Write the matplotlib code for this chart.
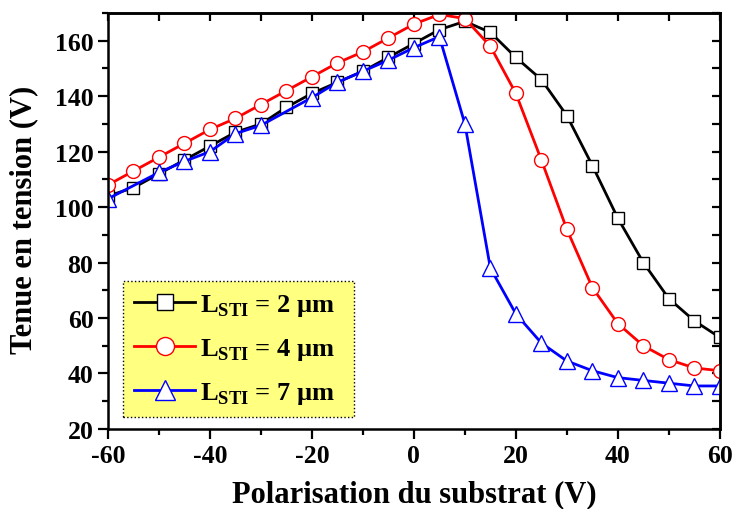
import numpy as np
import matplotlib
matplotlib.use("Agg")
import matplotlib.pyplot as plt
from matplotlib.ticker import MultipleLocator

plt.rcParams["font.family"] = ["Liberation Serif", "DejaVu Serif"]
plt.rcParams["font.weight"] = "bold"
plt.rcParams["axes.unicode_minus"] = False
plt.rcParams["mathtext.fontset"] = "custom"
plt.rcParams["mathtext.rm"] = "Liberation Serif:bold"
plt.rcParams["mathtext.bf"] = "Liberation Serif:bold"

# data
x_2um = [-60, -55, -50, -45, -40, -35, -30, -25, -20, -15, -10, -5, 0,
         5, 10, 15, 20, 25, 30, 35, 40, 45, 50, 55, 60]
y_2um = [104, 107, 112, 117, 122, 127, 130, 136, 141, 145, 149, 154, 159,
         164, 167, 163, 154, 146, 133, 115, 96, 80, 67, 59, 53]

x_4um = [-60, -55, -50, -45, -40, -35, -30, -25, -20, -15, -10, -5, 0,
         5, 10, 15, 20, 25, 30, 35, 40, 45, 50, 55, 60]
y_4um = [108, 113, 118, 123, 128, 132, 137, 142, 147, 152, 156, 161, 166,
         169.5, 168, 158, 141, 117, 92, 71, 58, 50, 45, 42, 41]

x_7um = [-60, -50, -45, -40, -35, -30, -20, -15, -10, -5, 0,
         5, 10, 15, 20, 25, 30, 35, 40, 45, 50, 55, 60]
y_7um = [103, 112.5, 116.5, 120, 126.5, 129.5, 139.5, 145, 149, 153, 157.5,
         161.5, 130, 78, 61.5, 51, 44.5, 41, 38.5, 37.5, 36.5, 35.5, 35.5]

labels = [r"L$_{\mathrm{STI}}$ = 2 µm  ", r"L$_{\mathrm{STI}}$ = 4 µm  ",
          r"L$_{\mathrm{STI}}$ = 7 µm  "]

fig = plt.figure(figsize=(7.36, 5.10), dpi=100)
ax = fig.add_axes([0.1467, 0.157, 0.8313, 0.8155])

ax.plot(x_2um, y_2um, "-s", color="black", lw=2, ms=9, mfc="white",
        mec="black", mew=1.0, label=labels[0])
ax.plot(x_4um, y_4um, "-o", color="red", lw=2, ms=10, mfc="white",
        mec="red", mew=1.0, label=labels[1])
ax.plot(x_7um, y_7um, "-^", color="blue", lw=2, ms=11, mfc="white",
        mec="blue", mew=1.0, label=labels[2])

ax.set_xlim(-60, 60)
ax.set_ylim(20, 170)
ax.xaxis.set_major_locator(MultipleLocator(20))
ax.xaxis.set_minor_locator(MultipleLocator(10))
ax.yaxis.set_major_locator(MultipleLocator(20))
ax.yaxis.set_minor_locator(MultipleLocator(10))
ax.tick_params(which="major", direction="out", length=7, width=1.6,
               labelsize=18.5, pad=3.5)
ax.tick_params(which="minor", direction="out", length=4, width=1.6)

# mirrored ticks pointing inwards on top and right
top = ax.secondary_xaxis("top")
top.xaxis.set_major_locator(MultipleLocator(10))
top.tick_params(direction="in", length=6, width=1.6, labeltop=False)
right = ax.secondary_yaxis("right")
right.yaxis.set_major_locator(MultipleLocator(10))
right.tick_params(direction="in", length=6, width=1.6, labelright=False)

for sp in list(ax.spines.values()) + [top.spines["top"], right.spines["right"]]:
    sp.set_linewidth(1.8)

ax.set_xlabel("Polarisation du substrat (V)", fontsize=22, fontweight="bold")
ax.set_ylabel("Tenue en tension (V)", fontsize=22, fontweight="bold")
ax.xaxis.set_label_coords(0.5, -0.122)
ax.yaxis.set_label_coords(-0.114, 0.505)

leg = ax.legend(loc="lower left", bbox_to_anchor=(0.025, 0.028),
                borderaxespad=0, fontsize=19, frameon=True, fancybox=False,
                handlelength=2.3, borderpad=0.42, labelspacing=0.68,
                handletextpad=0.2, markerscale=1.3)
frame = leg.get_frame()
frame.set_facecolor("#ffff80")
frame.set_alpha(1)
frame.set_edgecolor("black")
frame.set_linestyle(":")
frame.set_linewidth(1.0)

fig.savefig("out.png", dpi=100)
